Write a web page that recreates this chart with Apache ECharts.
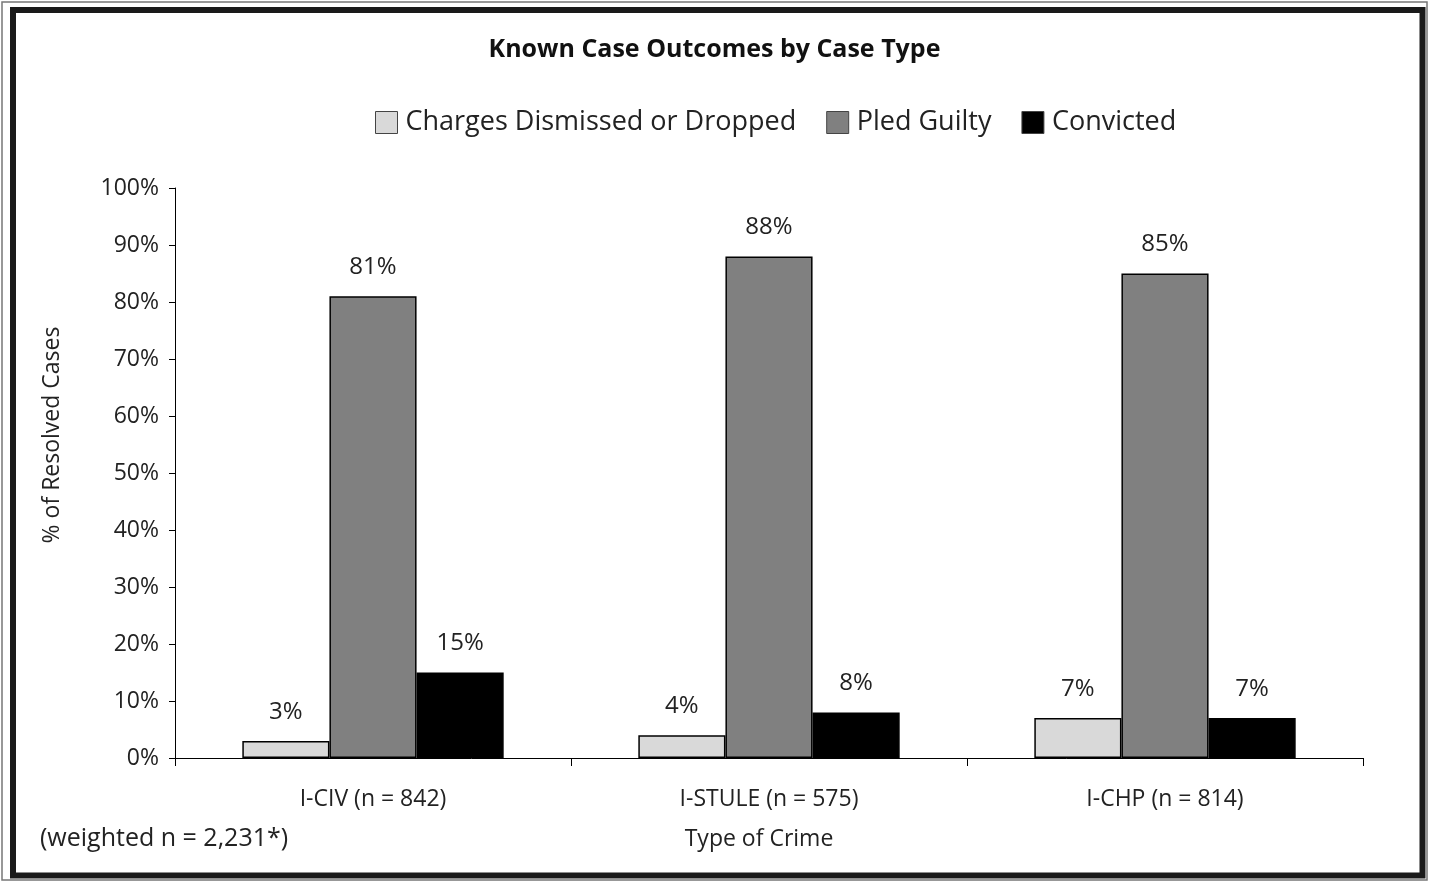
<!DOCTYPE html>
<html>
<head>
<meta charset="utf-8">
<script src="https://cdn.jsdelivr.net/npm/echarts@6/dist/echarts.min.js"></script>
<style>
  html, body { margin: 0; padding: 0; background: #fff; }
  #chart { width: 1429px; height: 882px; }
</style>
</head>
<body>
<div id="chart"></div>
<script>
// data
var categories = ["I-CIV (n = 842)", "I-STULE (n = 575)", "I-CHP (n = 814)"];
var seriesNames = ["Charges Dismissed or Dropped", "Pled Guilty", "Convicted"];
var dismissed = [3, 4, 7];
var pledGuilty = [81, 88, 85];
var convicted = [15, 8, 7];
var seriesColors = ["#d9d9d9", "#808080", "#000000"];

var font = "Open Sans";
var chart = echarts.init(document.getElementById("chart"));

function makeSeries(name, values, color) {
  return {
    name: name,
    type: "bar",
    data: values,
    barGap: "0%",
    barCategoryGap: "34%",
    itemStyle: { color: color, borderColor: "#000", borderWidth: 1.5 },
    label: {
      show: true,
      position: "top",
      distance: 17,
      formatter: "{c}%",
      fontFamily: font,
      fontSize: 24,
      color: "#222"
    }
  };
}

var option = {
  animation: false,
  backgroundColor: "#fff",
  title: {
    text: "Known Case Outcomes by Case Type",
    left: "center",
    top: 32,
    textStyle: { fontFamily: font, fontWeight: "bold", fontSize: 25, color: "#111" }
  },
  legend: {
    data: seriesNames,
    left: 370,
    top: 104,
    itemWidth: 22,
    itemHeight: 22,
    itemGap: 30,
    icon: "rect",
    itemStyle: { borderColor: "#444", borderWidth: 1 },
    textStyle: { fontFamily: font, fontSize: 27, color: "#222", padding: [0, 0, 0, 3] }
  },
  grid: { left: 175, right: 66, top: 188, bottom: 124 },
  xAxis: {
    type: "category",
    data: categories,
    axisLine: { lineStyle: { color: "#000", width: 1 } },
    axisTick: { show: true, length: 8, lineStyle: { color: "#000" } },
    axisLabel: { fontFamily: font, fontSize: 23, color: "#222", margin: 30 }
  },
  yAxis: {
    type: "value",
    min: 0,
    max: 100,
    interval: 10,
    axisLine: { show: true, lineStyle: { color: "#000", width: 1 } },
    axisTick: { show: true, length: 6, lineStyle: { color: "#000" } },
    axisLabel: { formatter: "{value}%", fontFamily: font, fontSize: 23, color: "#222", margin: 16 },
    splitLine: { show: false }
  },
  series: [
    makeSeries(seriesNames[0], dismissed, seriesColors[0]),
    makeSeries(seriesNames[1], pledGuilty, seriesColors[1]),
    makeSeries(seriesNames[2], convicted, seriesColors[2])
  ],
  graphic: [
    {
      type: "rect",
      shape: { x: 2, y: 2, width: 1425, height: 878 },
      style: { fill: null, stroke: "#777", lineWidth: 1.5 },
      silent: true
    },
    {
      type: "rect",
      shape: { x: 13, y: 10, width: 1409.5, height: 865.5 },
      style: { fill: null, stroke: "#1a1a1a", lineWidth: 6 },
      silent: true
    },
    {
      type: "text",
      x: 52,
      y: 435,
      rotation: Math.PI / 2,
      style: { text: "% of Resolved Cases", fontFamily: font, fontSize: 23, fill: "#222", align: "center", verticalAlign: "middle" }
    },
    {
      type: "text",
      x: 759,
      y: 839,
      style: { text: "Type of Crime", fontFamily: font, fontSize: 23, fill: "#222", align: "center", verticalAlign: "middle" }
    },
    {
      type: "text",
      x: 40,
      y: 839,
      style: { text: "(weighted n = 2,231*)", fontFamily: font, fontSize: 25, fill: "#222", align: "left", verticalAlign: "middle" }
    }
  ]
};

chart.setOption(option);
</script>
</body>
</html>
